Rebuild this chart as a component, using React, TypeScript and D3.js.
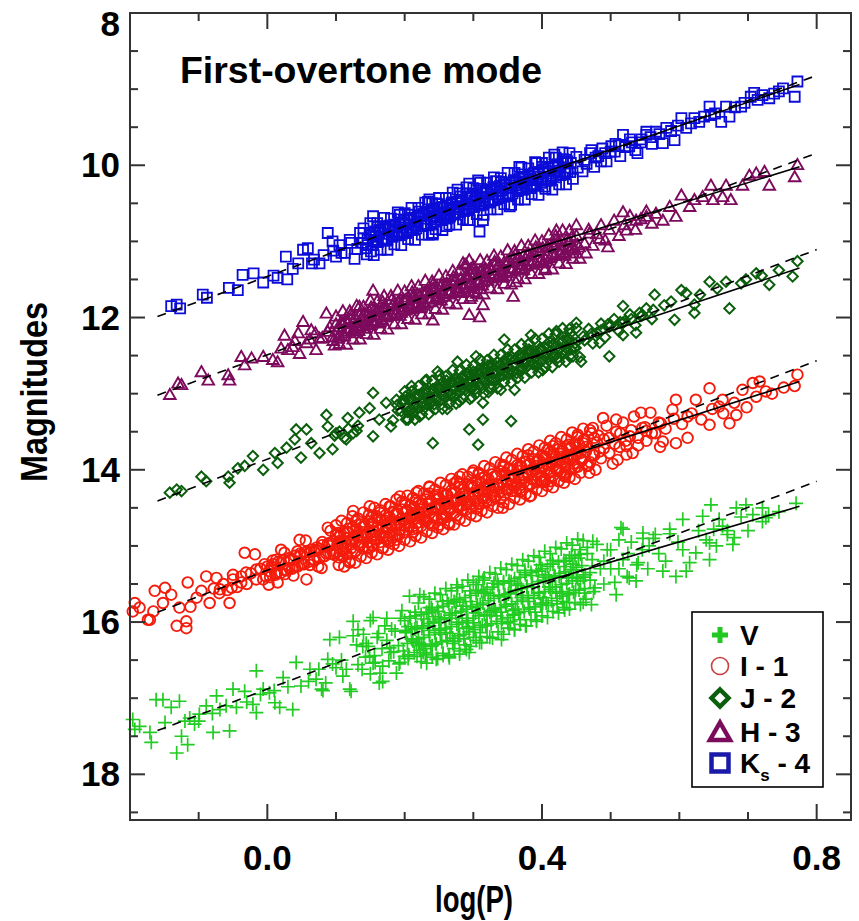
import React from "react";
import * as d3 from "d3";

type P = [number, number];

// ---- data (x = log(P), y = magnitude) ----
const V_PTS: P[] = [
  [-0.196,17.28],[-0.193,17.41],[-0.186,17.37],[-0.171,17.45],[-0.169,17.58],[-0.162,17.02],[-0.152,17.02],[-0.149,17.32],[-0.140,17.12],[-0.132,17.72],
  [-0.128,17.04],[-0.125,17.50],[-0.116,17.61],[-0.113,17.26],[-0.106,17.34],[-0.099,17.21],[-0.089,17.10],[-0.079,17.45],[-0.074,16.97],[-0.069,17.15],
  [-0.055,17.43],[-0.050,16.88],[-0.045,17.12],[-0.033,16.91],[-0.021,17.08],[-0.016,17.19],[-0.016,16.64],[-0.006,16.88],[0.003,16.93],[0.011,17.06],
  [0.018,17.12],[0.023,16.73],[0.037,17.15],[0.042,16.53],[0.049,16.84],[0.062,16.62],[0.071,16.75],[0.079,16.88],[0.088,16.49],[0.100,16.60],
  [0.110,16.71],[0.120,16.88],[0.125,16.18],[0.139,16.32],[0.149,16.45],[0.163,16.80],[0.178,16.34],[0.193,16.53],[0.202,16.14],[0.217,16.27],[0.227,16.40],
  [0.125,15.99],[0.154,15.94],[0.091,16.23],[0.105,16.20],[0.168,16.78],[0.122,16.91],[0.081,16.90],[0.207,15.66],[0.222,15.64],[0.236,15.81],
  [0.253,15.97],[0.265,16.47],[0.280,16.42],[0.294,16.40],[0.277,15.55],[0.304,15.51],[0.314,15.45],
  [0.236,16.05],[0.246,16.49],[0.265,16.45],[0.290,16.36],[0.309,16.27],[0.341,16.23],[0.377,16.05],[0.360,16.10],[0.401,15.75],[0.433,15.84],
  [0.472,15.77],[0.508,15.64],[0.474,14.94],[0.515,14.76],[0.527,15.42],[0.537,15.46],[0.547,14.90],[0.576,15.33],[0.595,15.40],[0.610,15.33],
  [0.586,14.78],[0.605,15.05],[0.624,15.09],[0.644,15.18],[0.654,15.00],[0.678,14.98],[0.639,14.92],[0.663,14.74],[0.670,14.80],[0.721,14.68],
  [0.518,14.78],[0.547,14.83],[0.586,14.84],[0.605,14.65],[0.634,14.61],[0.646,14.46],[0.658,14.65],[0.683,14.50],[0.697,14.46],[0.707,14.59],
  [0.721,14.50],[0.726,14.63],[0.770,14.44],[0.680,14.89],[0.644,14.96],
  [0.140,16.16],[0.143,16.46],[0.147,16.32],[0.150,16.68],[0.154,16.54],[0.157,16.53],[0.160,16.20],[0.164,16.67],[0.167,16.35],[0.171,16.05],
  [0.174,16.24],[0.177,16.51],[0.181,16.09],[0.184,16.39],[0.188,16.67],[0.191,16.31],[0.194,15.95],[0.198,16.38],[0.201,16.11],[0.205,16.48],
  [0.208,15.93],[0.211,16.23],[0.215,16.09],[0.218,16.45],[0.222,16.31],[0.225,16.29],[0.228,15.96],[0.232,16.43],[0.235,16.11],[0.239,15.81],
  [0.242,16.01],[0.245,16.28],[0.249,15.86],[0.252,16.16],[0.256,16.44],[0.259,16.08],[0.262,15.72],[0.266,16.15],[0.269,15.88],[0.273,16.25],
  [0.276,15.70],[0.279,16.00],[0.283,15.86],[0.286,16.22],[0.290,16.08],[0.293,16.06],[0.296,15.73],[0.300,16.20],[0.303,15.88],[0.307,15.58],
  [0.310,15.77],[0.313,16.04],[0.317,15.62],[0.320,15.92],[0.324,16.20],[0.327,15.85],[0.330,15.49],[0.334,15.92],[0.337,15.65],[0.341,16.02],
  [0.344,15.47],[0.347,15.77],[0.351,15.63],[0.354,15.99],[0.358,15.85],[0.361,15.83],[0.364,15.50],[0.368,15.97],[0.371,15.65],[0.375,15.35],
  [0.378,15.54],[0.381,15.81],[0.385,15.39],[0.388,15.69],[0.392,15.97],[0.395,15.61],[0.398,15.25],[0.402,15.68],[0.405,15.41],[0.409,15.78],
  [0.412,15.24],[0.415,15.54],[0.419,15.40],[0.422,15.76],[0.426,15.62],[0.429,15.60],[0.432,15.27],[0.436,15.74],[0.439,15.42],[0.443,15.12],
  [0.446,15.31],[0.449,15.58],[0.453,15.16],[0.456,15.46],[0.460,15.74],[0.463,15.38],[0.466,15.02],[0.470,15.45],[0.473,15.18],[0.477,15.55],
  [0.060,16.78],[0.075,16.62],[0.085,16.80],[0.095,16.55],[0.108,16.50],[0.115,16.62],[0.130,16.30],[0.132,16.56],[-0.030,17.05],[-0.010,16.95],
  [0.010,16.90],[0.030,16.85],[-0.120,17.30],[-0.100,17.30],[-0.080,17.20],[-0.060,17.10],
  [0.490,15.20],[0.500,15.05],[0.512,15.30],[0.525,15.10],[0.540,15.22],[0.556,15.00],[0.565,14.85],[0.580,15.20],[0.598,14.95],[0.615,15.22],
  [0.628,14.80],[0.650,14.78],[0.670,14.85],[0.690,14.62],[0.700,14.80],[0.730,14.60],[0.745,14.55]
];
const V_CORE: P[] = [
  [0.200,16.45],[0.205,16.06],[0.210,16.22],[0.215,15.87],[0.220,16.28],[0.225,16.08],[0.230,16.42],[0.235,15.88],[0.240,16.31],[0.245,15.93],
  [0.250,16.09],[0.255,15.73],[0.260,16.14],[0.265,15.95],[0.270,16.28],[0.275,15.74],[0.280,16.18],[0.285,15.79],[0.290,15.95],[0.295,15.59],
  [0.300,16.01],[0.305,15.81],[0.310,16.14],[0.315,15.61],[0.320,16.04],[0.325,15.65],[0.330,15.82],[0.335,15.46],[0.340,15.87],[0.345,15.67],
  [0.350,16.01],[0.355,15.47],[0.360,15.90],[0.365,15.52],[0.370,15.68],[0.375,15.32],[0.380,15.73],[0.385,15.54],[0.390,15.87],[0.395,15.33],
  [0.400,15.77],[0.405,15.38],[0.410,15.54],[0.415,15.19],[0.420,15.60],[0.425,15.40],[0.430,15.73],[0.435,15.20],[0.440,15.63],[0.445,15.24],
  [0.450,15.41],[0.455,15.05]
];
const V_ROWS: P[] = [
  [0.200,15.98],[0.208,15.95],[0.216,15.92],[0.224,15.90],[0.232,15.87],[0.240,15.84],[0.248,15.81],[0.256,15.79],[0.264,15.76],[0.272,15.73],
  [0.280,15.71],[0.288,15.68],[0.296,15.65],[0.304,15.62],[0.312,15.60],[0.320,15.57],[0.328,15.54],[0.336,15.51],[0.344,15.49],[0.352,15.46],
  [0.360,15.43],[0.368,15.41],[0.376,15.38],[0.384,15.35],[0.392,15.32],[0.400,15.30],[0.408,15.27],[0.416,15.24],[0.424,15.21],[0.432,15.19],
  [0.440,15.16],[0.448,15.13],[0.456,15.11],
  [0.202,16.13],[0.210,16.10],[0.218,16.07],[0.226,16.05],[0.234,16.02],[0.242,15.99],[0.250,15.96],[0.258,15.94],[0.266,15.91],[0.274,15.88],
  [0.282,15.86],[0.290,15.83],[0.298,15.80],[0.306,15.77],[0.314,15.75],[0.322,15.72],[0.330,15.69],[0.338,15.66],[0.346,15.64],[0.354,15.61],
  [0.362,15.58],[0.370,15.56],[0.378,15.53],[0.386,15.50],[0.394,15.47],[0.402,15.45],[0.410,15.42],[0.418,15.39],[0.426,15.36],[0.434,15.34],
  [0.442,15.31],[0.450,15.28],[0.458,15.26],
  [0.204,16.28],[0.212,16.25],[0.220,16.22],[0.228,16.20],[0.236,16.17],[0.244,16.14],[0.252,16.11],[0.260,16.09],[0.268,16.06],[0.276,16.03],
  [0.284,16.01],[0.292,15.98],[0.300,15.95],[0.308,15.92],[0.316,15.90],[0.324,15.87],[0.332,15.84],[0.340,15.81],[0.348,15.79],[0.356,15.76],
  [0.364,15.73],[0.372,15.71],[0.380,15.68],[0.388,15.65],[0.396,15.62],[0.404,15.60],[0.412,15.57],[0.420,15.54],[0.428,15.51],[0.436,15.49],
  [0.444,15.46],[0.452,15.43],[0.460,15.41],
  [0.206,16.43],[0.214,16.40],[0.222,16.37],[0.230,16.35],[0.238,16.32],[0.246,16.29],[0.254,16.26],[0.262,16.24],[0.270,16.21],[0.278,16.18],
  [0.286,16.16],[0.294,16.13],[0.302,16.10],[0.310,16.07],[0.318,16.05],[0.326,16.02],[0.334,15.99],[0.342,15.96],[0.350,15.94],[0.358,15.91],
  [0.366,15.88],[0.374,15.86],[0.382,15.83],[0.390,15.80],[0.398,15.77],[0.406,15.75],[0.414,15.72],[0.422,15.69],[0.430,15.66],[0.438,15.64],
  [0.446,15.61],[0.454,15.58],[0.462,15.56]
];
const V_EDGE: P[] = [
  [0.220,15.75],[0.228,15.67],[0.236,15.70],[0.244,15.62],[0.252,15.64],[0.260,15.56],[0.268,15.59],[0.276,15.51],[0.284,15.53],[0.292,15.45],
  [0.300,15.48],[0.308,15.40],[0.316,15.42],[0.324,15.35],[0.332,15.37],[0.340,15.29],[0.348,15.31],[0.356,15.24],[0.364,15.26],[0.372,15.18],
  [0.380,15.20],[0.388,15.13],[0.396,15.15],[0.404,15.07],[0.412,15.10],[0.420,15.02],[0.428,15.04],[0.436,14.96],[0.444,14.99],[0.452,14.91],[0.460,14.93],
  [0.224,16.52],[0.232,16.54],[0.240,16.46],[0.248,16.48],[0.256,16.41],[0.264,16.43],[0.272,16.35],[0.280,16.38],[0.288,16.30],[0.296,16.32],
  [0.304,16.24],[0.312,16.27],[0.320,16.19],[0.328,16.21],[0.336,16.13],[0.344,16.16],[0.352,16.08],[0.360,16.10],[0.368,16.03],[0.376,16.05],
  [0.384,15.97],[0.392,15.99],[0.400,15.92],[0.408,15.94],[0.416,15.86],[0.424,15.88],[0.432,15.81],[0.440,15.83],[0.448,15.75],[0.456,15.77],[0.464,15.70]
];
const V_TAPER: P[] = [
  [0.462,15.62],[0.466,15.10],[0.470,15.35],[0.475,15.60],[0.480,14.98],[0.485,15.30],[0.490,15.50],[0.495,15.05],[0.500,15.30],[0.506,15.48],
  [0.512,14.92],[0.518,15.18],[0.524,15.40],[0.530,14.95],[0.538,15.25],[0.546,15.05],[0.554,15.30],[0.562,14.90],[0.570,15.10],
  [0.132,16.10],[0.138,16.62],[0.144,16.28],[0.150,15.98],[0.156,16.44],[0.162,16.15],[0.168,16.58],[0.174,15.95],[0.180,16.40],[0.186,16.12],
  [0.192,16.55],[0.196,15.85]
];

const I_PTS: P[] = [
  [-0.193,15.75],[-0.196,15.86],[-0.186,15.81],[-0.174,15.97],[-0.164,15.59],[-0.166,15.86],[-0.152,15.75],[-0.149,15.55],[-0.140,15.64],[-0.132,16.05],
  [-0.128,15.81],[-0.118,15.99],[-0.116,15.48],[-0.112,15.80],[-0.103,15.68],[-0.096,15.59],[-0.089,15.40],[-0.084,15.75],[-0.074,15.42],[-0.069,15.57],
  [-0.055,15.75],[-0.052,15.55],[-0.050,15.38],[-0.038,15.48],[-0.033,15.09],[-0.031,15.35],[-0.018,15.11],[-0.016,15.31],[-0.006,15.44],[-0.004,15.24],
  [0.003,15.33],[0.013,15.18],[0.015,15.48],[0.025,15.09],[0.032,15.29],[0.047,14.92],[0.054,15.09],[0.057,15.44],[0.071,15.05],[0.079,15.29],
  [0.088,14.76],[0.091,14.96],[0.103,14.83],[0.105,15.11],[0.120,15.22],[0.122,14.92],[0.125,14.54],[0.139,14.87],[0.149,14.48],[0.154,15.00],
  [0.159,14.61],[0.168,15.03],[0.173,14.76],[0.178,14.48],[0.188,14.92],[0.193,14.35],[0.202,14.70],[0.217,14.30],[0.222,14.61],[0.236,14.22],
  [0.251,14.72],[0.265,14.72],[0.280,14.09],[0.299,14.04],[0.309,14.44],[-0.171,15.97],[-0.118,16.08],
  [0.343,14.50],[0.331,14.35],[0.382,14.35],[0.401,14.15],[0.413,14.15],[0.433,14.09],[0.469,14.04],[0.489,13.32],[0.474,13.45],[0.508,13.34],
  [0.532,13.78],[0.544,13.25],[0.510,13.87],[0.523,13.69],[0.576,13.63],[0.573,13.39],[0.595,13.08],[0.612,13.58],[0.595,13.65],[0.624,13.08],
  [0.644,12.93],[0.644,13.41],[0.658,13.17],[0.673,13.39],[0.683,13.28],[0.692,12.95],[0.707,12.86],[0.717,12.84],[0.726,12.97],[0.768,12.90],
  [0.772,12.75],[0.590,13.21],[0.552,13.49],[0.612,13.30],[0.663,13.08],[0.435,14.06],[0.362,14.19],
  [-0.078,15.56],[-0.070,15.62],[-0.064,15.50],[-0.058,15.58],[-0.050,15.44],[-0.044,15.54],[-0.038,15.40],[-0.030,15.50],[-0.024,15.36],[-0.016,15.44],
  [-0.010,15.30],[-0.002,15.40],[0.006,15.27],[0.012,15.36],[0.020,15.22],[0.026,15.32],[0.034,15.18],[0.040,15.27],[0.048,15.13],[0.054,15.24],
  [0.062,15.08],[0.068,15.18],[0.076,15.04],[0.082,15.14],[0.090,15.00],[0.096,15.10],[0.104,14.95],[0.110,15.04],[0.116,14.90],
  [0.120,14.77],[0.124,14.95],[0.128,15.07],[0.132,14.86],[0.136,14.95],[0.140,14.74],[0.144,14.86],[0.148,15.03],[0.152,14.62],[0.156,14.91],
  [0.160,14.75],[0.164,14.86],[0.168,14.89],[0.172,14.67],[0.176,14.95],[0.180,14.72],[0.184,14.55],[0.188,14.73],[0.192,14.85],[0.196,14.64],
  [0.200,14.73],[0.204,14.53],[0.208,14.64],[0.212,14.82],[0.216,14.40],[0.220,14.69],[0.224,14.52],[0.228,14.64],[0.232,14.67],[0.236,14.45],
  [0.240,14.73],[0.244,14.50],[0.248,14.33],[0.252,14.51],[0.256,14.63],[0.260,14.42],[0.264,14.51],[0.268,14.31],[0.272,14.42],[0.276,14.60],
  [0.280,14.18],[0.284,14.47],[0.288,14.30],[0.292,14.42],[0.296,14.45],[0.300,14.23],[0.304,14.51],[0.308,14.28],[0.312,14.11],[0.316,14.29],
  [0.320,14.41],[0.324,14.20],[0.328,14.29],[0.332,14.09],[0.336,14.20],[0.340,14.38],[0.344,13.96],[0.348,14.25],[0.352,14.08],[0.356,14.20],
  [0.360,14.23],[0.364,14.01],[0.368,14.29],[0.372,14.06],[0.376,13.89],[0.380,14.07],[0.384,14.19],[0.388,13.98],[0.392,14.07],[0.396,13.87],
  [0.400,13.98],[0.404,14.16],[0.408,13.74],[0.412,14.03],[0.416,13.86],[0.420,13.98],[0.424,14.01],[0.428,13.79],[0.432,14.07],[0.436,13.84],
  [0.440,13.67],[0.444,13.85],[0.448,13.97],[0.452,13.76],[0.456,13.85],[0.460,13.65],[0.464,13.76],[0.468,13.94],[0.472,13.52],[0.476,13.81],
  [0.480,13.64],[0.484,13.76],
  [0.490,13.72],[0.498,13.58],[0.506,13.66],[0.514,13.52],[0.522,13.62],[0.530,13.48],[0.540,13.58],[0.550,13.44],[0.560,13.52],[0.570,13.38],
  [0.580,13.46],[0.592,13.33],[0.604,13.40],[0.618,13.26],[0.632,13.34],[0.648,13.20],[0.664,13.26],[0.680,13.12],[0.698,13.18],[0.712,13.04],
  [0.735,13.00],[0.752,12.92]
];
const I_CORE: P[] = [
  [0.002,15.51],[0.008,15.19],[0.014,15.35],[0.020,15.05],[0.026,15.37],[0.032,15.19],[0.038,15.39],[0.044,15.07],[0.050,15.23],[0.056,14.93],
  [0.062,15.25],[0.068,15.07],[0.074,15.27],[0.080,14.95],[0.086,15.10],[0.092,14.80],[0.098,15.12],[0.104,14.94],[0.110,15.14],[0.116,14.82],
  [0.122,14.98],[0.128,14.68],[0.134,15.00],[0.140,14.82],[0.146,15.02],[0.152,14.70],[0.158,14.86],[0.164,14.56],[0.170,14.88],[0.176,14.70],
  [0.182,14.89],[0.188,14.57],[0.194,14.73],[0.200,14.43],[0.206,14.75],[0.212,14.57],[0.218,14.77],[0.224,14.45],[0.230,14.61],[0.236,14.31],
  [0.242,14.63],[0.248,14.45],[0.254,14.65],[0.260,14.33],[0.266,14.49],[0.272,14.18],[0.278,14.50],[0.284,14.32],[0.290,14.52],[0.296,14.20],
  [0.302,14.36],[0.308,14.06],[0.314,14.38],[0.320,14.20],[0.326,14.40],[0.332,14.08],[0.338,14.24],[0.344,13.94],[0.350,14.26],[0.356,14.08],
  [0.362,14.28],[0.368,13.95],[0.374,14.11],[0.380,13.81],[0.386,14.13],[0.392,13.95],[0.398,14.15],[0.404,13.83],[0.410,13.99],[0.416,13.69],
  [0.422,14.01],[0.428,13.83],[0.434,14.03],[0.440,13.71],[0.446,13.87],[0.452,13.57],[0.458,13.88],[0.464,13.70],[0.470,13.90],[0.476,13.58]
];
const I_ROWS: P[] = [
  [0.100,14.85],[0.106,14.87],[0.112,14.83],[0.118,14.82],[0.124,14.76],[0.130,14.78],[0.136,14.72],[0.142,14.74],[0.148,14.68],[0.154,14.70],
  [0.160,14.64],[0.166,14.66],[0.172,14.60],[0.178,14.62],[0.184,14.56],[0.190,14.58],[0.196,14.52],[0.202,14.54],[0.208,14.47],[0.214,14.49],
  [0.220,14.43],[0.226,14.45],[0.232,14.39],[0.238,14.41],[0.244,14.35],[0.250,14.37],[0.256,14.31],[0.262,14.33],[0.268,14.27],[0.274,14.29],
  [0.280,14.23],[0.286,14.25],[0.292,14.19],[0.298,14.21],[0.304,14.14],[0.310,14.16],[0.316,14.10],[0.322,14.12],[0.328,14.06],[0.334,14.08],
  [0.340,14.02],[0.346,14.04],[0.352,13.98],[0.358,14.00],[0.364,13.94],[0.370,13.96],[0.376,13.90],[0.382,13.92],[0.388,13.86],[0.394,13.88],
  [0.400,13.81],[0.406,13.83],[0.412,13.77],[0.418,13.79],[0.424,13.73],[0.430,13.75],[0.436,13.69],[0.442,13.71],[0.448,13.65],[0.454,13.67],[0.460,13.61],
  [0.102,14.99],[0.108,14.97],[0.114,14.95],[0.120,14.93],[0.126,14.91],[0.132,14.89],[0.138,14.87],[0.144,14.85],[0.150,14.83],[0.156,14.81],
  [0.162,14.79],[0.168,14.77],[0.174,14.75],[0.180,14.73],[0.186,14.71],[0.192,14.69],[0.198,14.67],[0.204,14.64],[0.210,14.62],[0.216,14.60],
  [0.222,14.58],[0.228,14.56],[0.234,14.54],[0.240,14.52],[0.246,14.50],[0.252,14.48],[0.258,14.46],[0.264,14.44],[0.270,14.42],[0.276,14.40],
  [0.282,14.38],[0.288,14.35],[0.294,14.33],[0.300,14.31],[0.306,14.29],[0.312,14.27],[0.318,14.25],[0.324,14.23],[0.330,14.21],[0.336,14.19],
  [0.342,14.17],[0.348,14.15],[0.354,14.13],[0.360,14.11],[0.366,14.09],[0.372,14.07],[0.378,14.04],[0.384,14.02],[0.390,14.00],[0.396,13.98],
  [0.402,13.96],[0.408,13.94],[0.414,13.92],[0.420,13.90],[0.426,13.88],[0.432,13.86],[0.438,13.84],[0.444,13.82],[0.450,13.80],[0.456,13.78],
  [0.104,15.15],[0.110,15.07],[0.116,15.11],[0.122,15.03],[0.128,15.07],[0.134,14.99],[0.140,15.03],[0.146,14.95],[0.152,14.99],[0.158,14.91],
  [0.164,14.95],[0.170,14.87],[0.176,14.90],[0.182,14.82],[0.188,14.86],[0.194,14.78],[0.200,14.82],[0.206,14.74],[0.212,14.78],[0.218,14.70],
  [0.224,14.74],[0.230,14.66],[0.236,14.70],[0.242,14.62],[0.248,14.66],[0.254,14.58],[0.260,14.62],[0.266,14.53],[0.272,14.57],[0.278,14.49],
  [0.284,14.53],[0.290,14.45],[0.296,14.49],[0.302,14.41],[0.308,14.45],[0.314,14.37],[0.320,14.41],[0.326,14.33],[0.332,14.37],[0.338,14.29],
  [0.344,14.33],[0.350,14.25],[0.356,14.28],[0.362,14.20],[0.368,14.24],[0.374,14.16],[0.380,14.20],[0.386,14.12],[0.392,14.16],[0.398,14.08],
  [0.404,14.12],[0.410,14.04],[0.416,14.08],[0.422,14.00],[0.428,14.04],[0.434,13.96],[0.440,14.00],[0.446,13.92],[0.452,13.96],[0.458,13.87],
  [0.000,15.27],[0.008,15.24],[0.016,15.21],[0.024,15.19],[0.032,15.16],[0.040,15.13],[0.048,15.10],[0.056,15.08],[0.064,15.05],[0.072,15.02],
  [0.080,14.99],[0.088,14.97],[0.096,14.94],
  [0.004,15.41],[0.012,15.38],[0.020,15.35],[0.028,15.32],[0.036,15.30],[0.044,15.27],[0.052,15.24],[0.060,15.21],[0.068,15.19],[0.076,15.16],
  [0.084,15.13],[0.092,15.10],[0.100,15.08]
];
const I_EDGE: P[] = [
  [0.100,14.73],[0.108,14.67],[0.116,14.70],[0.124,14.61],[0.132,14.64],[0.140,14.56],[0.148,14.59],[0.156,14.50],[0.164,14.53],[0.172,14.45],
  [0.180,14.48],[0.188,14.39],[0.196,14.42],[0.204,14.34],[0.212,14.37],[0.220,14.28],[0.228,14.31],[0.236,14.23],[0.244,14.26],[0.252,14.17],
  [0.260,14.20],[0.268,14.12],[0.276,14.15],[0.284,14.06],[0.292,14.09],[0.300,14.01],[0.308,14.04],[0.316,13.95],[0.324,13.98],[0.332,13.90],
  [0.340,13.93],[0.348,13.84],[0.356,13.87],[0.364,13.79],[0.372,13.82],[0.380,13.73],[0.388,13.76],[0.396,13.68],[0.404,13.71],[0.412,13.62],
  [0.420,13.65],[0.428,13.57],[0.436,13.60],[0.444,13.51],[0.452,13.54],[0.460,13.46],
  [0.104,15.25],[0.112,15.27],[0.120,15.20],[0.128,15.22],[0.136,15.14],[0.144,15.16],[0.152,15.09],[0.160,15.11],[0.168,15.03],[0.176,15.05],
  [0.184,14.98],[0.192,15.00],[0.200,14.92],[0.208,14.94],[0.216,14.87],[0.224,14.89],[0.232,14.81],[0.240,14.83],[0.248,14.76],[0.256,14.78],
  [0.264,14.70],[0.272,14.72],[0.280,14.65],[0.288,14.67],[0.296,14.59],[0.304,14.61],[0.312,14.54],[0.320,14.56],[0.328,14.48],[0.336,14.50],
  [0.344,14.43],[0.352,14.45],[0.360,14.37],[0.368,14.39],[0.376,14.32],[0.384,14.34],[0.392,14.26],[0.400,14.28],[0.408,14.21],[0.416,14.23],
  [0.424,14.15],[0.432,14.17],[0.440,14.10],[0.448,14.12],[0.456,14.04]
];
const I_TAPER: P[] = [
  [0.462,13.62],[0.466,13.95],[0.470,13.48],[0.474,13.80],[0.478,14.00],[0.482,13.55],[0.486,13.85],[0.490,13.60],[0.494,13.42],[0.498,13.78],
  [0.503,13.92],[0.508,13.50],[0.513,13.70],[0.518,13.38],[0.523,13.80],[0.528,13.56],[0.534,13.30],[0.540,13.68],[0.546,13.45],[0.552,13.62],
  [0.558,13.25],[0.565,13.52],[0.572,13.70]
];

const J_PTS: P[] = [
  [-0.142,14.30],[-0.132,14.26],[-0.125,14.28],[-0.096,14.09],[-0.089,14.15],[-0.057,14.09],[-0.055,14.17],[-0.043,13.98],[-0.033,13.95],[-0.021,13.82],
  [-0.006,14.00],[0.011,13.78],[0.015,13.91],[0.028,13.71],[0.040,13.60],[0.042,13.47],[0.049,13.84],[0.057,13.47],[0.064,13.65],[0.076,13.78],
  [0.086,13.28],[0.088,13.43],[0.095,13.73],[0.100,13.52],[0.115,13.60],[0.117,13.32],[0.130,13.49],[0.134,13.25],[0.149,13.19],[0.154,12.99],
  [0.154,13.56],[0.163,13.34],[0.173,13.12],[0.180,13.43],[0.188,13.08],[0.202,13.34],[0.210,12.97],[0.222,13.30],[0.232,12.82],[0.241,13.65],
  [0.248,12.71],[0.277,12.58],[0.294,13.47],[0.307,13.67],[0.304,12.51],[0.314,13.12],[0.314,13.34],
  [0.355,13.36],[0.360,12.95],[0.401,12.69],[0.440,12.51],[0.457,12.58],[0.498,12.51],[0.345,12.29],[0.384,12.23],[0.421,12.18],[0.450,12.14],
  [0.484,12.33],[0.496,12.09],[0.518,12.23],[0.537,12.20],[0.518,12.07],[0.542,11.94],[0.593,12.03],[0.622,11.94],[0.673,11.88],
  [0.518,11.85],[0.564,11.70],[0.603,11.64],[0.622,11.83],[0.644,11.53],[0.668,11.53],[0.697,11.50],[0.712,11.42],[0.731,11.57],[0.765,11.46],
  [0.772,11.26],[0.588,11.79],[0.610,11.68],
  [0.190,13.22],[0.196,13.10],[0.203,13.19],[0.209,13.06],[0.215,13.16],[0.220,13.02],[0.226,13.12],[0.231,12.98],[0.236,13.08],[0.241,12.94],
  [0.246,13.05],[0.250,12.91],[0.255,13.01],[0.259,12.87],[0.264,12.97],[0.268,12.84],[0.272,12.94],[0.276,12.80],[0.280,12.91],[0.284,12.77],
  [0.288,12.88],[0.292,12.74],[0.296,12.85],[0.300,12.71],[0.304,12.82],[0.308,12.68],[0.312,12.79],[0.316,12.66],[0.320,12.76],[0.325,12.62],
  [0.330,12.73],[0.335,12.59],[0.340,12.70],[0.345,12.56],[0.350,12.66],[0.356,12.52],[0.362,12.62],[0.368,12.48],[0.375,12.58],[0.382,12.44],
  [0.390,12.53],[0.398,12.40],[0.407,12.47],[0.416,12.35],[0.426,12.41],[0.437,12.30],[0.448,12.34],[0.460,12.25],[0.472,12.21],[0.486,12.17],
  [0.500,12.10],[0.514,12.06],[0.530,12.02],[0.546,11.97],[0.562,11.90],[0.578,11.84],[0.630,11.70],[0.655,11.62],[0.690,11.55],[0.720,11.45],[0.745,11.38],
  [0.262,13.20],[0.280,13.10],[0.298,13.05],[0.322,12.98],[0.340,12.95],
  [0.098,13.55],[0.105,13.50],[0.112,13.58],[0.118,13.46],[0.125,13.52],[0.132,13.42]
];
const J_CORE: P[] = [
  [0.183,13.35],[0.189,13.15],[0.195,13.23],[0.201,13.04],[0.207,13.23],[0.213,13.25],[0.219,13.05],[0.225,13.13],[0.231,12.94],[0.237,13.13],
  [0.243,13.14],[0.249,12.94],[0.255,13.02],[0.261,12.83],[0.267,13.02],[0.273,13.04],[0.279,12.84],[0.285,12.92],[0.291,12.73],[0.297,12.92],
  [0.303,12.94],[0.309,12.74],[0.315,12.82],[0.321,12.63],[0.327,12.82],[0.333,12.83],[0.339,12.63],[0.345,12.71],[0.351,12.52],[0.357,12.71],
  [0.363,12.73],[0.369,12.53],[0.375,12.61],[0.381,12.42],[0.387,12.61],[0.393,12.63],[0.399,12.43],[0.405,12.51],[0.411,12.32],[0.417,12.51],
  [0.423,12.53],[0.429,12.32],[0.435,12.40],[0.441,12.21],[0.447,12.40]
];
const J_ROWS: P[] = [
  [0.200,13.09],[0.207,13.07],[0.214,13.04],[0.221,13.02],[0.228,13.00],[0.235,12.97],[0.242,12.95],[0.249,12.92],[0.256,12.90],[0.263,12.88],
  [0.270,12.85],[0.277,12.83],[0.284,12.80],[0.291,12.78],[0.298,12.76],[0.305,12.73],[0.312,12.71],[0.319,12.68],[0.326,12.66],[0.333,12.64],
  [0.340,12.61],[0.347,12.59],[0.354,12.56],[0.361,12.54],[0.368,12.51],[0.375,12.49],[0.382,12.47],[0.389,12.44],[0.396,12.42],[0.403,12.39],
  [0.410,12.37],[0.417,12.35],[0.424,12.32],[0.431,12.30],[0.438,12.27],[0.445,12.25],
  [0.204,13.24],[0.211,13.21],[0.218,13.19],[0.225,13.17],[0.232,13.14],[0.239,13.12],[0.246,13.09],[0.253,13.07],[0.260,13.05],[0.267,13.02],
  [0.274,13.00],[0.281,12.97],[0.288,12.95],[0.295,12.93],[0.302,12.90],[0.309,12.88],[0.316,12.85],[0.323,12.83],[0.330,12.81],[0.337,12.78],
  [0.344,12.76],[0.351,12.73],[0.358,12.71],[0.365,12.69],[0.372,12.66],[0.379,12.64],[0.386,12.61],[0.393,12.59],[0.400,12.57],[0.407,12.54],
  [0.414,12.52],[0.421,12.49],[0.428,12.47],[0.435,12.45],[0.442,12.42],[0.449,12.40]
];
const J_EDGE: P[] = [
  [0.200,12.97],[0.210,12.90],[0.220,12.90],[0.230,12.83],[0.240,12.83],[0.250,12.76],[0.260,12.77],[0.270,12.69],[0.280,12.70],[0.290,12.62],
  [0.300,12.63],[0.310,12.55],[0.320,12.56],[0.330,12.49],[0.340,12.49],[0.350,12.42],[0.360,12.42],[0.370,12.35],[0.380,12.35],[0.390,12.28],
  [0.400,12.28],[0.410,12.21],[0.420,12.22],[0.430,12.14],[0.440,12.15],[0.450,12.07],
  [0.205,13.34],[0.215,13.34],[0.225,13.27],[0.235,13.27],[0.245,13.20],[0.255,13.20],[0.265,13.13],[0.275,13.13],[0.285,13.06],[0.295,13.07],
  [0.305,12.99],[0.315,13.00],[0.325,12.92],[0.335,12.93],[0.345,12.85],[0.355,12.86],[0.365,12.79],[0.375,12.79],[0.385,12.72],[0.395,12.72],
  [0.405,12.65],[0.415,12.65],[0.425,12.58],[0.435,12.58],[0.445,12.51],[0.455,12.52]
];
const J_TAPER: P[] = [
  [0.462,12.30],[0.468,12.15],[0.474,12.34],[0.480,12.20],[0.486,12.08],[0.492,12.26],[0.498,12.12],[0.505,12.02],[0.512,12.18],[0.520,12.05],
  [0.528,11.96],[0.536,12.10],[0.544,11.98],[0.552,11.88],[0.560,12.02]
];

const H_PTS: P[] = [
  [-0.142,13.01],[-0.130,12.86],[-0.125,12.88],[-0.096,12.71],[-0.086,12.82],[-0.055,12.82],[-0.057,12.75],[-0.038,12.51],[-0.033,12.62],[-0.023,12.53],
  [-0.006,12.51],[0.008,12.55],[0.015,12.58],[0.025,12.23],[0.030,12.42],[0.037,12.38],[0.045,12.20],[0.047,12.47],[0.052,12.05],[0.057,12.33],
  [0.064,12.16],[0.071,12.42],[0.076,12.27],[0.086,11.94],[0.091,12.12],[0.095,12.25],[0.098,12.36],[0.110,12.07],[0.120,12.14],[0.127,12.20],
  [0.134,11.85],[0.139,12.03],[0.149,12.09],[0.159,11.90],[0.168,11.79],[0.173,11.99],[0.195,11.90],[0.207,11.81],[0.241,12.03],[0.294,11.96],[0.309,11.99],
  [0.154,11.64],[0.285,11.28],[0.294,11.24],[0.314,11.83],[0.297,11.72],
  [0.324,11.42],[0.358,11.72],[0.362,11.53],[0.401,11.28],[0.421,10.85],[0.404,11.37],[0.445,11.15],[0.464,11.15],[0.469,10.89],[0.496,11.07],
  [0.484,10.96],[0.518,10.61],[0.523,10.85],[0.537,10.72],[0.552,10.67],[0.566,10.63],[0.576,10.72],[0.586,10.54],[0.595,10.67],[0.603,10.39],
  [0.615,10.54],[0.622,10.45],[0.634,10.41],[0.646,10.26],[0.649,10.45],[0.663,10.41],[0.668,10.26],[0.675,10.45],[0.692,10.26],[0.702,10.13],
  [0.712,10.10],[0.724,10.08],[0.731,10.26],[0.768,10.15],[0.772,9.99],
  [0.080,12.26],[0.088,12.18],[0.096,12.30],[0.104,12.12],[0.112,12.24],[0.118,12.05],[0.124,12.17],[0.131,12.10],[0.137,12.00],[0.143,12.14],
  [0.149,11.98],[0.155,12.06],[0.160,11.92],[0.166,12.03],[0.171,11.88],[0.177,11.97],[0.182,11.84],[0.187,11.95],[0.192,11.80],[0.197,11.90],
  [0.202,11.76],[0.207,11.87],[0.212,11.74],[0.217,11.82],[0.222,11.70],[0.227,11.80],[0.232,11.66],[0.237,11.75],[0.242,11.62],[0.247,11.72],
  [0.252,11.59],[0.257,11.68],[0.262,11.56],[0.267,11.65],[0.272,11.52],[0.277,11.61],[0.282,11.48],[0.287,11.57],[0.292,11.45],[0.297,11.54],
  [0.302,11.41],[0.307,11.50],[0.312,11.38],[0.318,11.46],[0.324,11.34],[0.330,11.43],[0.336,11.31],[0.342,11.39],[0.349,11.27],[0.356,11.35],
  [0.363,11.22],[0.371,11.30],[0.379,11.17],[0.388,11.25],[0.397,11.12],[0.407,11.19],[0.417,11.06],[0.428,11.11],[0.440,11.00],[0.452,11.04],
  [0.020,12.40],[0.040,12.30],[0.062,12.28],[0.070,12.20],[0.288,11.30],[0.300,11.66],[0.310,11.62],[0.296,11.36]
];
const H_CORE: P[] = [
  [0.103,12.27],[0.109,12.07],[0.115,12.15],[0.121,11.96],[0.127,12.15],[0.133,12.17],[0.139,11.97],[0.145,12.05],[0.151,11.86],[0.157,12.05],
  [0.163,12.07],[0.169,11.87],[0.175,11.95],[0.181,11.76],[0.187,11.95],[0.193,11.97],[0.199,11.77],[0.205,11.85],[0.211,11.66],[0.217,11.85],
  [0.223,11.87],[0.229,11.67],[0.235,11.75],[0.241,11.56],[0.247,11.75],[0.253,11.77],[0.259,11.57],[0.265,11.65],[0.271,11.46],[0.277,11.65],
  [0.283,11.67],[0.289,11.47],[0.295,11.55],[0.301,11.36],[0.307,11.55],[0.313,11.57],[0.319,11.37],[0.325,11.45],[0.331,11.26],[0.337,11.45],
  [0.343,11.47],[0.349,11.27],[0.355,11.35],[0.361,11.17],[0.367,11.35],[0.373,11.37],[0.379,11.18],[0.385,11.26],[0.391,11.07],[0.397,11.26],
  [0.403,11.28],[0.409,11.08],[0.415,11.16],[0.421,10.97],[0.427,11.16],[0.433,11.18],[0.439,10.98],[0.445,11.06]
];
const H_ROWS: P[] = [
  [0.100,12.08],[0.107,12.06],[0.114,12.03],[0.121,12.01],[0.128,11.99],[0.135,11.96],[0.142,11.94],[0.149,11.92],[0.156,11.89],[0.163,11.87],
  [0.170,11.85],[0.177,11.82],[0.184,11.80],[0.191,11.78],[0.198,11.76],[0.205,11.73],[0.212,11.71],[0.219,11.69],[0.226,11.66],[0.233,11.64],
  [0.240,11.62],[0.247,11.59],[0.254,11.57],[0.261,11.55],[0.268,11.52],[0.275,11.50],[0.282,11.48],[0.289,11.45],[0.296,11.43],[0.303,11.41],
  [0.310,11.38],[0.317,11.36],[0.324,11.34],[0.331,11.31],[0.338,11.29],[0.345,11.27],[0.352,11.25],[0.359,11.22],[0.366,11.20],[0.373,11.18],
  [0.380,11.15],[0.387,11.13],[0.394,11.11],[0.401,11.08],[0.408,11.06],[0.415,11.04],[0.422,11.01],[0.429,10.99],[0.436,10.97],[0.443,10.94],[0.450,10.92],
  [0.104,12.23],[0.111,12.20],[0.118,12.18],[0.125,12.16],[0.132,12.13],[0.139,12.11],[0.146,12.09],[0.153,12.06],[0.160,12.04],[0.167,12.02],
  [0.174,11.99],[0.181,11.97],[0.188,11.95],[0.195,11.93],[0.202,11.90],[0.209,11.88],[0.216,11.86],[0.223,11.83],[0.230,11.81],[0.237,11.79],
  [0.244,11.76],[0.251,11.74],[0.258,11.72],[0.265,11.69],[0.272,11.67],[0.279,11.65],[0.286,11.62],[0.293,11.60],[0.300,11.58],[0.307,11.55],
  [0.314,11.53],[0.321,11.51],[0.328,11.48],[0.335,11.46],[0.342,11.44],[0.349,11.41],[0.356,11.39],[0.363,11.37],[0.370,11.35],[0.377,11.32],
  [0.384,11.30],[0.391,11.28],[0.398,11.25],[0.405,11.23],[0.412,11.21],[0.419,11.18],[0.426,11.16],[0.433,11.14],[0.440,11.11],[0.447,11.09],[0.454,11.07]
];
const H_EDGE: P[] = [
  [0.100,11.98],[0.110,11.91],[0.120,11.91],[0.130,11.84],[0.140,11.85],[0.150,11.77],[0.160,11.78],[0.170,11.71],[0.180,11.71],[0.190,11.64],
  [0.200,11.65],[0.210,11.58],[0.220,11.58],[0.230,11.51],[0.240,11.52],[0.250,11.44],[0.260,11.45],[0.270,11.38],[0.280,11.38],[0.290,11.31],
  [0.300,11.32],[0.310,11.24],[0.320,11.25],[0.330,11.18],[0.340,11.19],[0.350,11.11],[0.360,11.12],[0.370,11.05],[0.380,11.05],[0.390,10.98],
  [0.400,10.99],[0.410,10.91],[0.420,10.92],[0.430,10.85],[0.440,10.85],[0.450,10.78],
  [0.105,12.34],[0.115,12.35],[0.125,12.28],[0.135,12.28],[0.145,12.21],[0.155,12.22],[0.165,12.14],[0.175,12.15],[0.185,12.08],[0.195,12.08],
  [0.205,12.01],[0.215,12.02],[0.225,11.95],[0.235,11.95],[0.245,11.88],[0.255,11.89],[0.265,11.81],[0.275,11.82],[0.285,11.75],[0.295,11.75],
  [0.305,11.68],[0.315,11.69],[0.325,11.61],[0.335,11.62],[0.345,11.55],[0.355,11.56],[0.365,11.48],[0.375,11.49],[0.385,11.42],[0.395,11.42],
  [0.405,11.35],[0.415,11.36],[0.425,11.28],[0.435,11.29],[0.445,11.22],[0.455,11.22]
];
const H_TAPER: P[] = [
  [0.462,11.02],[0.468,10.84],[0.474,11.05],[0.480,10.90],[0.486,10.78],[0.492,10.98],[0.498,10.84],[0.505,10.72],[0.512,10.92],[0.520,10.78],
  [0.528,10.66],[0.536,10.84],[0.544,10.70],[0.552,10.60],[0.560,10.76]
];

const K_PTS: P[] = [
  [-0.140,11.85],[-0.132,11.83],[-0.127,11.88],[-0.094,11.70],[-0.088,11.74],[-0.056,11.61],[-0.043,11.64],[-0.036,11.44],[-0.020,11.42],[-0.006,11.54],
  [0.009,11.45],[0.015,11.48],[0.027,11.20],[0.029,11.50],[0.037,11.36],[0.045,11.29],[0.052,11.11],[0.059,11.09],[0.065,11.29],[0.076,11.29],
  [0.088,10.89],[0.095,11.00],[0.100,11.20],[0.108,11.15],[0.120,10.98],[0.127,11.23],[0.135,10.89],[0.139,11.02],[0.154,10.67],[0.151,11.13],
  [0.159,10.98],[0.168,10.80],[0.178,10.83],[0.193,10.65],[0.197,10.89],[0.207,10.65],[0.217,10.80],[0.219,10.67],[0.234,10.48],[0.241,10.91],
  [0.246,10.50],[0.258,10.63],[0.261,10.80],[0.277,10.32],[0.280,10.54],[0.294,10.24],[0.307,10.20],[0.292,10.72],[0.309,10.87],[0.314,10.72],
  [0.236,10.45],[0.246,10.67],[0.241,10.89],[0.290,10.37],[0.333,10.21],[0.353,10.54],[0.367,10.02],[0.382,10.19],[0.392,9.97],[0.404,10.28],
  [0.418,9.86],[0.435,9.93],[0.450,9.89],[0.459,10.08],[0.472,9.80],[0.486,9.95],[0.501,9.75],[0.518,9.60],[0.527,9.75],[0.539,9.84],
  [0.552,9.56],[0.566,9.56],[0.576,9.71],[0.581,9.51],[0.593,9.67],[0.603,9.38],[0.610,9.51],[0.622,9.38],[0.629,9.43],[0.644,9.23],
  [0.646,9.34],[0.661,9.43],[0.668,9.23],[0.673,9.36],[0.690,9.23],[0.695,9.18],[0.704,9.10],[0.709,9.05],[0.721,9.08],[0.731,9.12],
  [0.751,8.99],[0.768,9.10],[0.772,8.90],
  [0.122,11.02],[0.131,11.10],[0.140,10.96],[0.146,11.05],[0.152,10.92],[0.158,11.01],[0.163,10.88],[0.170,10.96],[0.176,10.84],[0.181,10.93],
  [0.187,10.80],[0.192,10.90],[0.198,10.76],[0.203,10.85],[0.208,10.72],[0.213,10.82],[0.219,10.75],[0.224,10.66],[0.229,10.78],[0.233,10.62],
  [0.238,10.71],[0.243,10.58],[0.247,10.68],[0.252,10.64],[0.256,10.55],[0.261,10.70],[0.265,10.60],[0.269,10.51],[0.273,10.63],[0.278,10.56],
  [0.282,10.47],[0.286,10.60],[0.290,10.52],[0.294,10.43],[0.298,10.55],[0.302,10.47],[0.306,10.39],[0.311,10.51],[0.315,10.42],[0.319,10.34],
  [0.323,10.46],[0.327,10.38],[0.332,10.30],[0.336,10.41],[0.341,10.33],[0.346,10.26],[0.351,10.37],[0.356,10.29],[0.362,10.21],[0.368,10.31],
  [0.374,10.24],[0.380,10.15],[0.387,10.27],[0.394,10.12],[0.401,10.20],[0.408,10.08],[0.416,10.14],[0.424,10.02],[0.433,10.09],[0.442,9.97],
  [0.452,10.03],[0.462,9.93],[0.068,11.24],[0.082,11.18],[0.096,11.12],[0.105,11.05],[0.113,11.15],
  [0.478,9.90],[0.492,9.84],[0.506,9.82],[0.512,9.74],[0.531,9.70],[0.545,9.66],[0.558,9.63],[0.571,9.59],[0.588,9.55],[0.598,9.48],
  [0.617,9.45],[0.636,9.36],[0.652,9.32],[0.681,9.24],[0.714,9.14],[0.738,9.06],[0.745,9.03]
];
const K_CORE: P[] = [
  [0.143,11.09],[0.149,10.89],[0.155,10.98],[0.161,10.81],[0.167,10.97],[0.173,10.99],[0.179,10.79],[0.185,10.88],[0.191,10.71],[0.197,10.87],
  [0.203,10.89],[0.209,10.69],[0.215,10.78],[0.221,10.61],[0.227,10.77],[0.233,10.79],[0.239,10.59],[0.245,10.68],[0.251,10.51],[0.257,10.67],
  [0.263,10.69],[0.269,10.49],[0.275,10.58],[0.281,10.41],[0.287,10.57],[0.293,10.59],[0.299,10.39],[0.305,10.48],[0.311,10.31],[0.317,10.47],
  [0.323,10.49],[0.329,10.29],[0.335,10.39],[0.341,10.22],[0.347,10.38],[0.353,10.40],[0.359,10.20],[0.365,10.29],[0.371,10.12],[0.377,10.28],
  [0.383,10.30],[0.389,10.10],[0.395,10.19],[0.401,10.02],[0.407,10.18],[0.413,10.20],[0.419,10.00],[0.425,10.09],[0.431,9.92],[0.437,10.08],
  [0.146,10.98],[0.158,10.94],[0.170,10.90],[0.182,10.86],[0.194,10.82],[0.206,10.78],[0.218,10.74],[0.230,10.70],[0.242,10.66],[0.254,10.62],
  [0.266,10.58],[0.278,10.54],[0.290,10.50],[0.302,10.46],[0.314,10.42],[0.326,10.38],[0.338,10.34],[0.350,10.30],[0.362,10.26],[0.374,10.22],
  [0.386,10.19],[0.398,10.15],[0.410,10.11],[0.422,10.07],[0.434,10.03]
];
const K_ROWS: P[] = [
  [0.150,10.90],[0.157,10.87],[0.164,10.85],[0.171,10.83],[0.178,10.80],[0.185,10.78],[0.192,10.76],[0.199,10.73],[0.206,10.71],[0.213,10.69],
  [0.220,10.66],[0.227,10.64],[0.234,10.62],[0.241,10.60],[0.248,10.57],[0.255,10.55],[0.262,10.53],[0.269,10.50],[0.276,10.48],[0.283,10.46],
  [0.290,10.43],[0.297,10.41],[0.304,10.39],[0.311,10.36],[0.318,10.34],[0.325,10.32],[0.332,10.29],[0.339,10.27],[0.346,10.25],[0.353,10.23],
  [0.360,10.20],[0.367,10.18],[0.374,10.16],[0.381,10.13],[0.388,10.11],[0.395,10.09],[0.402,10.06],[0.409,10.04],[0.416,10.02],[0.423,9.99],
  [0.430,9.97],[0.437,9.95],
  [0.154,11.04],[0.161,11.01],[0.168,10.99],[0.175,10.97],[0.182,10.94],[0.189,10.92],[0.196,10.90],[0.203,10.87],[0.210,10.85],[0.217,10.83],
  [0.224,10.80],[0.231,10.78],[0.238,10.76],[0.245,10.74],[0.252,10.71],[0.259,10.69],[0.266,10.67],[0.273,10.64],[0.280,10.62],[0.287,10.60],
  [0.294,10.57],[0.301,10.55],[0.308,10.53],[0.315,10.50],[0.322,10.48],[0.329,10.46],[0.336,10.43],[0.343,10.41],[0.350,10.39],[0.357,10.37],
  [0.364,10.34],[0.371,10.32],[0.378,10.30],[0.385,10.27],[0.392,10.25],[0.399,10.23],[0.406,10.20],[0.413,10.18],[0.420,10.16],[0.427,10.13],
  [0.434,10.11],[0.441,10.09]
];
const K_EDGE: P[] = [
  [0.140,10.83],[0.150,10.76],[0.160,10.76],[0.170,10.69],[0.180,10.70],[0.190,10.62],[0.200,10.63],[0.210,10.56],[0.220,10.56],[0.230,10.49],
  [0.240,10.50],[0.250,10.43],[0.260,10.43],[0.270,10.36],[0.280,10.37],[0.290,10.29],[0.300,10.30],[0.310,10.23],[0.320,10.23],[0.330,10.16],
  [0.340,10.17],[0.350,10.10],[0.360,10.10],[0.370,10.03],[0.380,10.04],[0.390,9.96],[0.400,9.97],[0.410,9.90],[0.420,9.90],[0.430,9.83],[0.440,9.84],
  [0.145,11.17],[0.155,11.18],[0.165,11.11],[0.175,11.11],[0.185,11.04],[0.195,11.05],[0.205,10.97],[0.215,10.98],[0.225,10.91],[0.235,10.91],
  [0.245,10.84],[0.255,10.85],[0.265,10.78],[0.275,10.78],[0.285,10.71],[0.295,10.72],[0.305,10.64],[0.315,10.65],[0.325,10.58],[0.335,10.58],
  [0.345,10.51],[0.355,10.52],[0.365,10.45],[0.375,10.45],[0.385,10.38],[0.395,10.39],[0.405,10.31],[0.415,10.32],[0.425,10.25],[0.435,10.25],[0.445,10.18]
];
const K_TAPER: P[] = [
  [0.465,9.98],[0.470,9.84],[0.476,10.02],[0.482,9.88],[0.488,9.78],[0.494,9.95],[0.500,9.82],[0.507,9.72],[0.514,9.88],[0.521,9.76],
  [0.528,9.66],[0.536,9.80],[0.544,9.70],[0.552,9.60],[0.560,9.72]
];

const SERIES_LABELS = ["V", "I - 1", "J - 2", "H - 3", "K"];
// fitted relations: m = a + b * logP
const DASH_A = [16.88, 15.32, 13.86, 12.49, 11.46];
const DASH_B = [-3.41, -3.44, -3.44, -3.31, -3.30];
const DASH_RANGE: [number, number] = [-0.16, 0.80];
const SOLID_END = [14.48, 12.84, 11.35, 10.02, 8.94];
const SOLID_B = [-2.66, -2.9, -3.0, -2.78, -3.1];
const SOLID_RANGE: [number, number] = [0.35, 0.775];

const Y_MAJOR = [8, 10, 12, 14, 16, 18];
const X_MAJOR = [0.0, 0.4, 0.8];
const X_LABELS = ["0.0", "0.4", "0.8"];

// ---- styling ----
const COLORS = ["#22cc22", "#f41c0c", "#0b5e0b", "#7d0a5d", "#0c0cd8"];
const LEGEND_COLORS = ["#22c822", "#c84040", "#0b5e0b", "#7b0b5b", "#1a1aa8"];
const FONT = "'Liberation Sans', Arial, Helvetica, sans-serif";

const L = 130, R = 851, T = 13, B = 820;

function markerPath(kind: number, s: number): string {
  switch (kind) {
    case 0: return `M${-s},0H${s}M0,${-s}V${s}`;
    case 2: return `M0,${-s}L${s},0L0,${s}L${-s},0Z`;
    case 3: return `M0,${-s * 0.95}L${s},${s * 0.8}L${-s},${s * 0.8}Z`;
    case 4: return `M${-s},${-s}H${s}V${s}H${-s}Z`;
    default: return "";
  }
}

export default function App() {
  const x = d3.scaleLinear().domain([-0.2, 0.85]).range([L, R]);
  const y = d3.scaleLinear().domain([8, 18.6]).range([T, B]);
  const line = d3.line<P>().x((d) => x(d[0])).y((d) => y(d[1]));

  const series = [
    V_PTS.concat(V_CORE, V_ROWS, V_EDGE, V_TAPER),
    I_PTS.concat(I_CORE, I_ROWS, I_EDGE, I_TAPER),
    J_PTS.concat(J_CORE, J_ROWS, J_EDGE, J_TAPER),
    H_PTS.concat(H_CORE, H_ROWS, H_EDGE, H_TAPER),
    K_PTS.concat(K_CORE, K_ROWS, K_EDGE, K_TAPER),
  ];
  const sizes = [7, 5.3, 5.2, 5.8, 5];
  const widths = [1.7, 1.9, 2.0, 1.9, 1.8];

  const yMinor = d3.range(16, 38).map((v) => v / 2).filter((v) => v % 2 !== 0 && v <= 18.6);
  const xMinor = [-0.1, 0.1, 0.2, 0.3, 0.5, 0.6, 0.7];

  const legendY = [635, 666, 698, 732, 763];

  return (
    <svg width={859} height={921} style={{ position: "absolute", left: 0, top: 0, background: "#fff" }}>
      <rect x={0} y={0} width={859} height={921} fill="#fff" />
      {/* points */}
      {series.map((pts, si) => (
        <g key={si} fill="none" stroke={COLORS[si]} strokeWidth={widths[si]}>
          {pts.map((p, i) =>
            si === 1 ? (
              <circle key={i} cx={x(p[0])} cy={y(p[1])} r={sizes[si]} />
            ) : (
              <path key={i} transform={`translate(${x(p[0])},${y(p[1])})`} d={markerPath(si, sizes[si])} />
            )
          )}
        </g>
      ))}
      {/* fits */}
      {DASH_A.map((a, i) => (
        <path key={"d" + i} d={line(DASH_RANGE.map((xv) => [xv, a + DASH_B[i] * xv] as P)) || ""}
          fill="none" stroke="#000" strokeWidth={1.6} strokeDasharray="9,7" />
      ))}
      {SOLID_END.map((e, i) => (
        <path key={"s" + i} d={line(SOLID_RANGE.map((xv) => [xv, e + SOLID_B[i] * (xv - SOLID_RANGE[1])] as P)) || ""}
          fill="none" stroke="#000" strokeWidth={1.6} />
      ))}
      {/* frame */}
      <rect x={L} y={T} width={R - L} height={B - T} fill="none" stroke="#333" strokeWidth={2} />
      {Y_MAJOR.map((v) => (
        <g key={"ym" + v} stroke="#333" strokeWidth={2}>
          <line x1={L} x2={L + 15} y1={y(v)} y2={y(v)} />
          <line x1={R} x2={R - 15} y1={y(v)} y2={y(v)} />
        </g>
      ))}
      {yMinor.map((v) => (
        <g key={"yn" + v} stroke="#333" strokeWidth={2}>
          <line x1={L} x2={L + 8} y1={y(v)} y2={y(v)} />
          <line x1={R} x2={R - 8} y1={y(v)} y2={y(v)} />
        </g>
      ))}
      {X_MAJOR.map((v) => (
        <g key={"xm" + v} stroke="#333" strokeWidth={2}>
          <line x1={x(v)} x2={x(v)} y1={B} y2={B - 16} />
          <line x1={x(v)} x2={x(v)} y1={T} y2={T + 16} />
        </g>
      ))}
      {xMinor.map((v) => (
        <g key={"xn" + v} stroke="#333" strokeWidth={2}>
          <line x1={x(v)} x2={x(v)} y1={B} y2={B - 8} />
          <line x1={x(v)} x2={x(v)} y1={T} y2={T + 8} />
        </g>
      ))}
      {/* tick labels */}
      <g fontFamily={FONT} fontWeight="bold" fontSize={35} fill="#000">
        {Y_MAJOR.map((v) => (
          <text key={"yl" + v} x={120} y={Math.max(y(v), 24) + 12} textAnchor="end">{v}</text>
        ))}
        {X_MAJOR.map((v, i) => (
          <text key={"xl" + v} x={x(v)} y={870} textAnchor="middle">{X_LABELS[i]}</text>
        ))}
      </g>
      {/* axis titles */}
      <text x={0} y={0} transform="translate(47,392) rotate(-90)" textAnchor="middle" fontFamily={FONT}
        fontWeight="bold" fontSize={36} textLength={180} lengthAdjust="spacingAndGlyphs">Magnitudes</text>
      <text x={474} y={912} textAnchor="middle" fontFamily={FONT} fontWeight="bold" fontSize={36}
        textLength={78} lengthAdjust="spacingAndGlyphs">log(P)</text>
      <text x={180} y={83} fontFamily={FONT} fontWeight="bold" fontSize={37} textLength={362}
        lengthAdjust="spacingAndGlyphs">First-overtone mode</text>
      {/* legend */}
      <rect x={692} y={612} width={131} height={175} fill="#fff" stroke="#000" strokeWidth={1.6} />
      {SERIES_LABELS.map((lab, i) => (
        <g key={"lg" + i}>
          {i === 1 ? (
            <circle cx={720} cy={legendY[i]} r={8.5} fill="none" stroke={LEGEND_COLORS[i]} strokeWidth={1.6} />
          ) : (
            <path transform={`translate(720,${legendY[i]})`} d={markerPath(i, i === 0 ? 8 : i === 3 ? 10 : 8.5)}
              fill="none" stroke={LEGEND_COLORS[i]} strokeWidth={i === 0 ? 5 : 4.5} />
          )}
          <text x={740} y={legendY[i] + 10} fontFamily={FONT} fontWeight="bold" fontSize={28} fill="#000">
            {lab}
            {i === 4 ? (
              <>
                <tspan fontSize={17} dy={8}>s</tspan>
                <tspan dy={-8}> - 4</tspan>
              </>
            ) : null}
          </text>
        </g>
      ))}
    </svg>
  );
}
